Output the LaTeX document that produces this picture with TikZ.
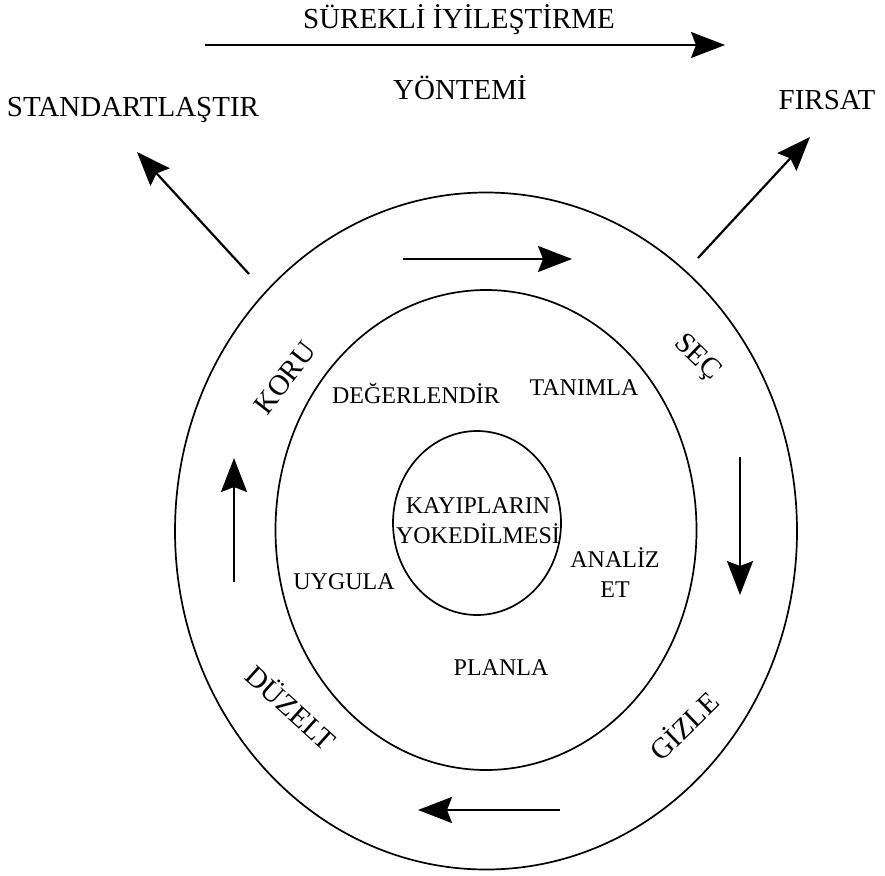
\documentclass[tikz,border=0pt]{standalone}
\usepackage{fontspec}
\setmainfont{Liberation Serif}
\usetikzlibrary{shapes.geometric,arrows.meta}

\begin{document}
\begin{tikzpicture}[x=1pt,y=-1pt,
    ring/.style={draw=black, line width=1.7pt, ellipse, inner sep=0pt},
    flow/.style={black, line width=2.2pt, -{Stealth[length=34pt,width=26pt,inset=5pt]}},
    big/.style={font=\fontsize{29}{33}\selectfont},
    small/.style={font=\fontsize{24}{30}\selectfont, align=center}]
    \useasboundingbox (0,0) rectangle (885,875);

    % halkalar
    \node[ring, minimum width=622pt, minimum height=677pt] (outer) at (486,531) {};
    \node[ring, minimum width=421pt, minimum height=480pt] (inner) at (486,530) {};
    \node[ring, minimum width=168pt, minimum height=184pt] (core) at (477,523) {};
    \node[small] (coretext) at (478,521) {KAYIPLARIN\\YOKEDİLMESİ};

    % ust yazilar
    \node[big] (title) at (459,20) {SÜREKLİ İYİLEŞTİRME};
    \node[big] (method) at (460,88) {YÖNTEMİ};
    \node[big] (std) at (133,110) {STANDARTLAŞTIR};
    \node[big] (chance) at (827,100) {FIRSAT};

    % dis halka
    \node[big, rotate=52] (koru) at (285,378) {KORU};
    \node[big, rotate=-44] (sec) at (697,358) {SEÇ};
    \node[big, rotate=-42] (duzelt) at (292,707) {DÜZELT};
    \node[big, rotate=44] (gizle) at (683,725) {GİZLE};

    % ic halka
    \node[small] (deger) at (416,393) {DEĞERLENDİR};
    \node[small] (tanimla) at (584,388) {TANIMLA};
    \node[small] (uygula) at (344,582) {UYGULA};
    \node[small] (analiz) at (615,573) {ANALİZ\\ET};
    \node[small] (planla) at (501,668) {PLANLA};

    % oklar
    \coordinate (topL) at (205,45);
    \coordinate (topR) at (725,45);
    \coordinate (stdS) at (249,274);
    \coordinate (stdE) at (137,152);
    \coordinate (chS) at (698,258);
    \coordinate (chE) at (810,137);
    \draw[flow] (topL) -- (topR);
    \draw[flow] (stdS) -- (stdE);
    \draw[flow] (chS) -- (chE);

    \coordinate (n1) at (403,259);
    \coordinate (n2) at (572,259);
    \coordinate (e1) at (740,457);
    \coordinate (e2) at (740,595);
    \coordinate (s1) at (560,810);
    \coordinate (s2) at (418,810);
    \coordinate (w1) at (234,582);
    \coordinate (w2) at (234,458);
    \draw[flow] (n1) -- (n2);
    \draw[flow] (e1) -- (e2);
    \draw[flow] (s1) -- (s2);
    \draw[flow] (w1) -- (w2);
\end{tikzpicture}
\end{document}
